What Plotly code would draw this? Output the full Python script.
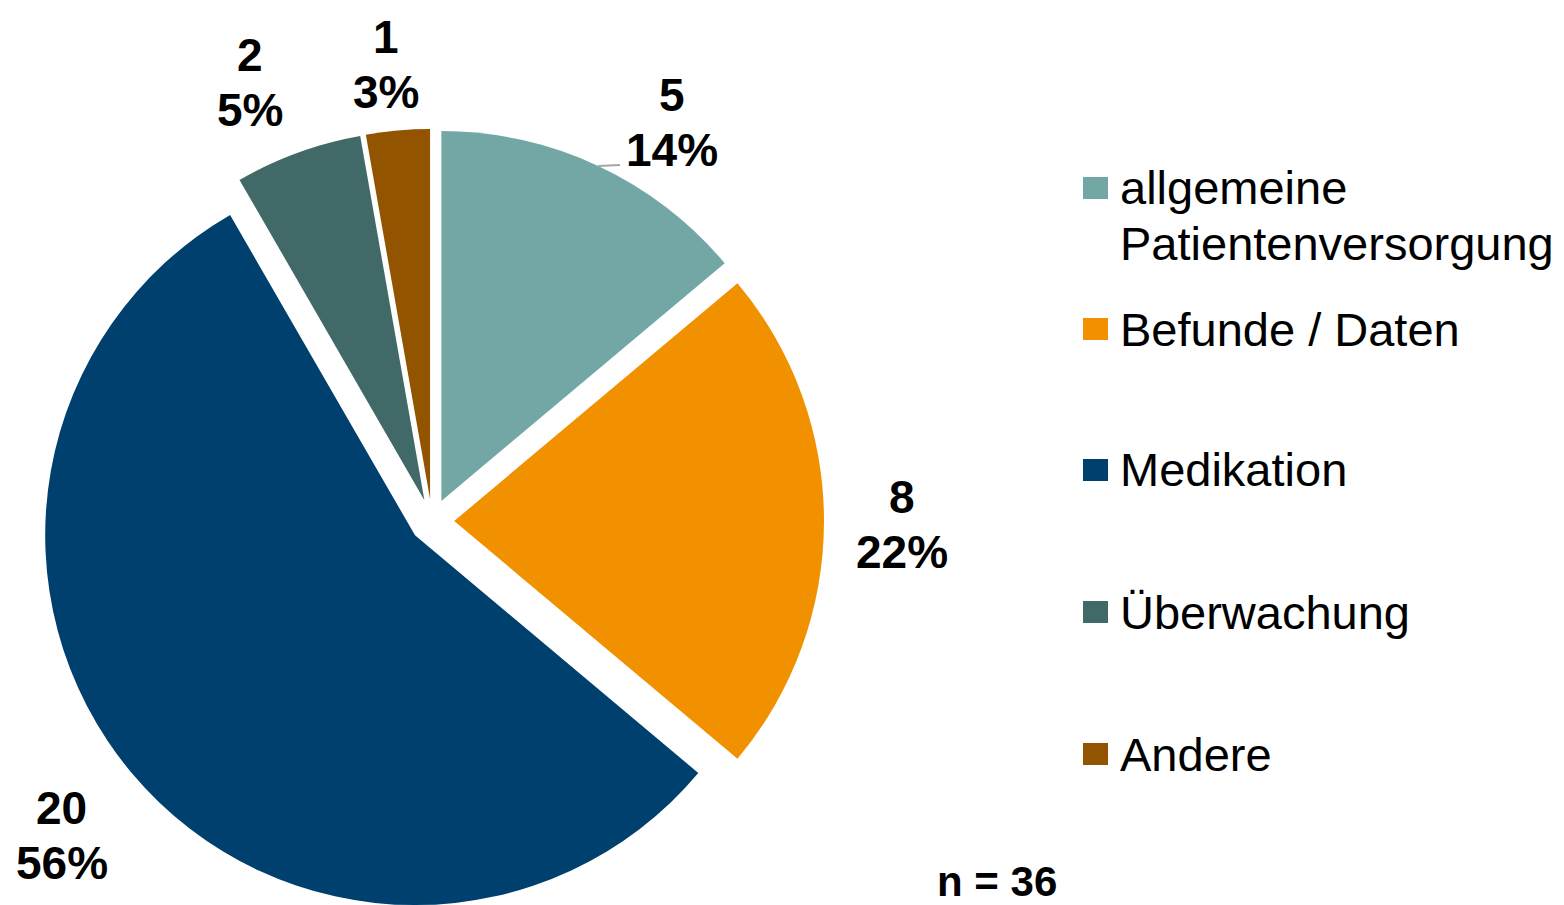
import plotly.graph_objects as go

categories = ["allgemeine<br>Patientenversorgung", "Befunde / Daten", "Medikation", "Überwachung", "Andere"]
values = [5, 8, 20, 2, 1]
pct_labels = ["14%", "22%", "56%", "5%", "3%"]
colors = ["#72A7A6", "#F29100", "#00406E", "#416968", "#935400"]
n_label = "n = 36"

W, H = 1564, 905
OFF = 8          # default page margin of the html body
pull = 0.06
cx, cy = 432 - OFF, 521 - OFF
half = 392       # half of pie domain size in px

domain = dict(x=[(cx - half) / W, (cx + half) / W], y=[max(0, 1 - (cy + half) / H), 1 - (cy - half) / H])

fig = go.Figure()
fig.add_trace(go.Pie(
    labels=categories,
    values=values,
    textinfo="none",
    marker=dict(colors=colors, line=dict(width=0)),
    pull=[pull] * len(values),
    sort=False,
    direction="clockwise",
    rotation=0,
    showlegend=False,
    hoverinfo="label+value+percent",
    domain=domain,
))

# data labels (value on first line, percentage on second), placed like the reference
label_xy = [(672, 95), (902, 497), (62, 808), (250, 55), (386, 37)]   # screen px, centre of first line
label_gap = 55
label_font = dict(family="Liberation Sans", size=46, color="black", weight="bold")
for v, p, (lx, ly) in zip(values, pct_labels, label_xy):
    for k, t in enumerate([str(v), p]):
        fig.add_annotation(
            x=(lx - OFF) / W, y=1 - (ly - OFF + k * label_gap) / H, xref="paper", yref="paper",
            xanchor="center", yanchor="middle", text=t, showarrow=False, font=label_font,
            borderpad=0,
        )
# short leader line of the first label
fig.add_shape(type="line", xref="paper", yref="paper",
              x0=(598 - OFF) / W, x1=(620 - OFF) / W, y0=1 - (166 - OFF) / H, y1=1 - (165 - OFF) / H,
              line=dict(color="#A6A6A6", width=2))

# manual legend
legend_y = [188, 329, 470, 612, 754]
line_h = 55
for lab, col, yc in zip(categories, colors, legend_y):
    yc = yc - OFF
    for k, line in enumerate(lab.split("<br>")):
        fig.add_annotation(
            x=1110 / W, y=1 - (yc + k * line_h) / H, xref="paper", yref="paper",
            xanchor="left", yanchor="middle", align="left",
            text=line, showarrow=False,
            font=dict(family="Liberation Sans", size=47, color="black"),
        )
    fig.add_shape(
        type="rect", xref="paper", yref="paper",
        x0=(1083 - OFF) / W, x1=(1108 - OFF) / W, y0=1 - (yc + 11) / H, y1=1 - (yc - 11) / H,
        fillcolor=col, line=dict(width=0),
    )

fig.add_annotation(
    x=(997 - OFF) / W, y=1 - (881 - OFF) / H, xref="paper", yref="paper",
    xanchor="center", yanchor="middle", text=n_label, showarrow=False,
    font=dict(family="Liberation Sans", size=42, color="black", weight="bold"),
)

fig.update_layout(
    width=W, height=H,
    margin=dict(l=0, r=0, t=0, b=0, autoexpand=False),
    paper_bgcolor="white", plot_bgcolor="white",
)

fig.write_html("out.html")
